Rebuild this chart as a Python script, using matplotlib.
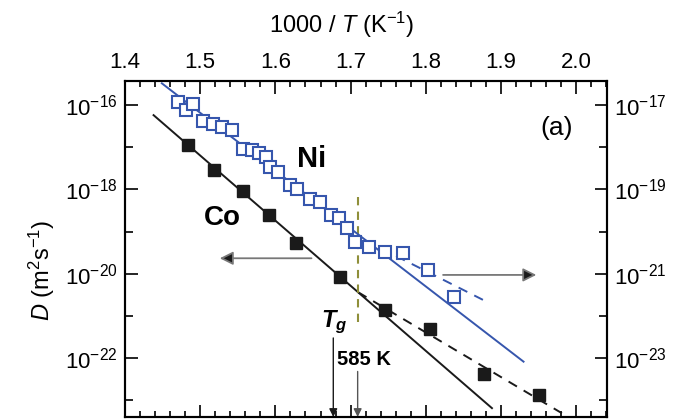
import numpy as np
import matplotlib
matplotlib.use('Agg')
import matplotlib.pyplot as plt
from matplotlib.ticker import FixedLocator, NullFormatter, LogFormatterSciNotation

plt.rcParams['font.family'] = ['Liberation Sans', 'DejaVu Sans']
plt.rcParams['mathtext.fontset'] = 'custom'
plt.rcParams['mathtext.rm'] = 'Liberation Sans'
plt.rcParams['mathtext.it'] = 'Liberation Sans:italic'
plt.rcParams['mathtext.bf'] = 'Liberation Sans:italic:bold'

# Co (filled squares, left axis), log10 D in m^2/s
co_x = [1.484, 1.518, 1.557, 1.592, 1.628, 1.686, 1.746, 1.805, 1.877, 1.950]
co_logD = [-16.95, -17.54, -18.04, -18.61, -19.28, -20.07, -20.86, -21.32, -22.38, -22.89]
co_fit_x = [1.438, 1.888]
co_fit_logD = [-16.24, -23.19]
co_low_x = [1.710, 1.981]
co_low_logD = [-20.44, -23.31]

# Ni (open squares, right axis)
ni_x = [1.471, 1.481, 1.491, 1.504, 1.517, 1.529, 1.542, 1.557, 1.569, 1.578,
        1.588, 1.593, 1.603, 1.619, 1.629, 1.646, 1.659, 1.674, 1.685, 1.695,
        1.706, 1.725, 1.746, 1.770, 1.803, 1.837]
ni_logD = [-16.93, -17.11, -16.97, -17.39, -17.45, -17.51, -17.59, -18.04, -18.06, -18.14,
           -18.23, -18.47, -18.59, -18.90, -18.99, -19.24, -19.30, -19.60, -19.69, -19.91,
           -20.24, -20.36, -20.48, -20.50, -20.91, -21.55]
ni_fit_x = [1.449, 1.930]
ni_fit_logD = [-16.485, -23.087]
ni_low_x = [1.719, 1.879]
ni_low_logD = [-20.208, -21.648]

Tg = 1000 / 585.0

blue = '#3656ad'
black = '#1a1a1a'

fig = plt.figure(figsize=(6.8, 4.2), dpi=100)
ax = fig.add_axes([125 / 680, 3 / 420, 482 / 680, 336 / 420])
ax.set_yscale('log')
ax.set_xlim(1.4, 2.041)
ax.set_ylim(10 ** -23.4, 10 ** -15.43)

ax2 = ax.twinx()
ax2.set_yscale('log')
ax2.set_ylim(10 ** -24.4, 10 ** -16.43)

p = lambda a: np.power(10.0, a)

# Co
ax.plot(co_fit_x, p(co_fit_logD), color=black, lw=1.4)
ax.plot(co_low_x, p(co_low_logD), color=black, lw=1.4, dashes=(5, 4))
ax.plot(co_x, p(co_logD), 's', color=black, ms=8, zorder=5)

# Ni
ax2.plot(ni_fit_x, p(ni_fit_logD), color=blue, lw=1.4)
ax2.plot(ni_low_x, p(ni_low_logD), color=blue, lw=1.4, dashes=(5, 4))
ax2.plot(ni_x, p(ni_logD), 's', mfc='white', mec=blue, mew=1.5, ms=8.5, zorder=5)

# Tg line
ax.plot([Tg, Tg], [10 ** -18.17, 10 ** -21.29], color='#8f8f3a', lw=1.5, dashes=(4, 3))

# ticks
ax.xaxis.set_major_locator(FixedLocator([1.4, 1.5, 1.6, 1.7, 1.8, 1.9, 2.0]))
ax.xaxis.set_minor_locator(FixedLocator(np.arange(1.42, 2.05, 0.02)))
ax.xaxis.set_major_formatter(plt.FormatStrFormatter('%.1f'))
ax.tick_params(axis='x', which='both', direction='in', top=True, bottom=True,
               labeltop=True, labelbottom=False, labelsize=16, pad=6)
ax.tick_params(axis='x', which='major', length=9, width=1.2)
ax.tick_params(axis='x', which='minor', length=4.5, width=1.2)

ax.yaxis.set_major_locator(FixedLocator([1e-16, 1e-18, 1e-20, 1e-22]))
ax.yaxis.set_minor_locator(FixedLocator([1e-17, 1e-19, 1e-21, 1e-23]))
ax.yaxis.set_major_formatter(LogFormatterSciNotation())
ax.yaxis.set_minor_formatter(NullFormatter())
ax.tick_params(axis='y', which='both', direction='in', right=False, labelsize=16, pad=5)
ax.tick_params(axis='y', which='major', length=9, width=1.2)
ax.tick_params(axis='y', which='minor', length=6, width=1.2)

ax2.yaxis.set_major_locator(FixedLocator([1e-17, 1e-19, 1e-21, 1e-23]))
ax2.yaxis.set_minor_locator(FixedLocator([1e-18, 1e-20, 1e-22, 1e-24]))
ax2.yaxis.set_major_formatter(LogFormatterSciNotation())
ax2.yaxis.set_minor_formatter(NullFormatter())
ax2.tick_params(axis='y', which='both', direction='in', labelsize=16, pad=5)
ax2.tick_params(axis='y', which='major', length=9, width=1.2)
ax2.tick_params(axis='y', which='minor', length=6, width=1.2)

for a in (ax, ax2):
    for s in a.spines.values():
        s.set_linewidth(1.5)

fig.text(342 / 680, 1 - 25 / 420, '1000 / $T$ (K$^{-1}$)', fontsize=17,
         ha='center', va='center')
fig.text(42 / 680, 1 - 270 / 420, '$D$ (m$^{2}$s$^{-1}$)', fontsize=17,
         ha='center', va='center', rotation=90)

# labels
ax.text(1.6487, 10 ** -17.28, 'Ni', fontsize=21, fontweight='bold', ha='center', va='center')
ax.text(1.5297, 10 ** -18.68, 'Co', fontsize=20, fontweight='bold', ha='center', va='center')
ax.text(0.896, 0.86, '(a)', transform=ax.transAxes, fontsize=19, ha='center', va='center')
ax.text(1.6606, 10 ** -21.257, r'$\mathbf{T_g}$', fontsize=17, ha='left', va='baseline')
ax.text(1.6815, 10 ** -22.166, '585 K', fontsize=14.5, fontweight='bold', ha='left', va='baseline')

# arrows
ax.annotate('', xy=(1.677, 0), xycoords=('data', 'axes fraction'),
            xytext=(1.677, 10 ** -21.525), textcoords='data',
            arrowprops=dict(arrowstyle='-|>', color=black, lw=1.0, mutation_scale=12,
                            shrinkA=0, shrinkB=0))
ax.annotate('', xy=(Tg, 0), xycoords=('data', 'axes fraction'),
            xytext=(Tg, 10 ** -22.32), textcoords='data',
            arrowprops=dict(arrowstyle='-|>', color='#555555', lw=1.0, mutation_scale=12,
                            shrinkA=0, shrinkB=0))
ax.annotate('', xy=(1.526, 10 ** -19.635), xytext=(1.648, 10 ** -19.635),
            arrowprops=dict(arrowstyle='-|>', ec='#777777', fc=black, lw=1.3,
                            mutation_scale=20, shrinkA=0, shrinkB=0))
ax.annotate('', xy=(1.947, 10 ** -20.03), xytext=(1.823, 10 ** -20.03),
            arrowprops=dict(arrowstyle='-|>', ec='#777777', fc=black, lw=1.3,
                            mutation_scale=20, shrinkA=0, shrinkB=0))

fig.savefig('out.png', dpi=100)
